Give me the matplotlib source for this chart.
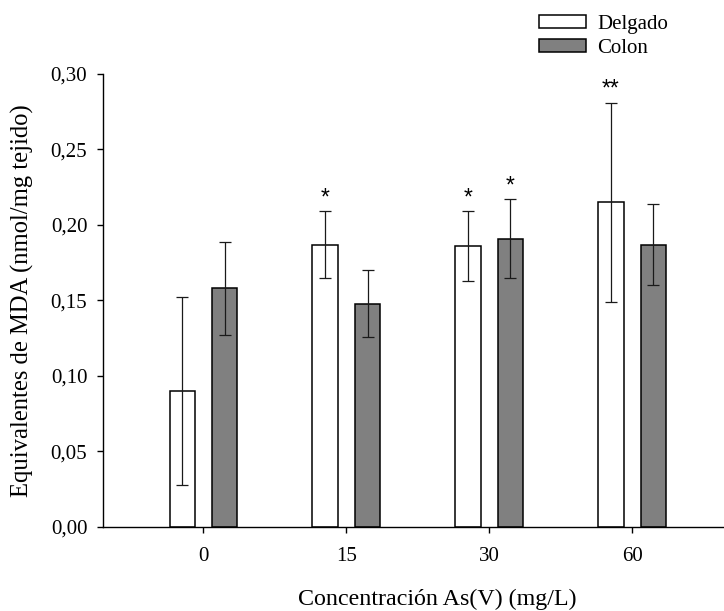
import numpy as np
import matplotlib
matplotlib.use("Agg")
from matplotlib import pyplot as plt

# data
conc = ["0", "15", "30", "60"]
delgado = [0.090, 0.187, 0.186, 0.215]
delgado_err = [0.062, 0.022, 0.023, 0.066]
colon = [0.158, 0.148, 0.191, 0.187]
colon_err = [0.031, 0.022, 0.026, 0.027]
delgado_stars = ["", "*", "*", "**"]
colon_stars = ["", "", "*", ""]
yticks = [0.00, 0.05, 0.10, 0.15, 0.20, 0.25, 0.30]

plt.rcParams['font.family'] = ['Liberation Serif', 'DejaVu Serif']

fig = plt.figure(figsize=(7.24, 6.11), dpi=100)
ax = fig.add_axes([0.1423, 0.1375, 1.0 - 0.1423, 0.8789 - 0.1375])

x = np.arange(len(conc))
w = 0.178
off = 0.148
err_kw = dict(ecolor='#1a1a1a', elinewidth=0.9, capsize=4.3, capthick=0.9, zorder=3)

ax.bar(x - off, delgado, w, yerr=delgado_err, color='white', edgecolor='black',
       linewidth=1.1, label='Delgado', error_kw=err_kw, zorder=2)
ax.bar(x + off, colon, w, yerr=colon_err, color='#808080', edgecolor='black',
       linewidth=1.1, label='Colon', error_kw=err_kw, zorder=2)

# significance marks above the error bars
for i in range(len(conc)):
    if delgado_stars[i]:
        ax.annotate(delgado_stars[i], (x[i] - off, delgado[i] + delgado_err[i]),
                    xytext=(0, 5), textcoords='offset points', ha='center', va='baseline',
                    fontsize=16.5, fontfamily='Liberation Sans')
    if colon_stars[i]:
        ax.annotate(colon_stars[i], (x[i] + off, colon[i] + colon_err[i]),
                    xytext=(0, 5), textcoords='offset points', ha='center', va='baseline',
                    fontsize=16.5, fontfamily='Liberation Sans')

ax.set_xlim(-0.703, 3.643)
ax.set_ylim(0, 0.30)
ax.set_xticks(x)
ax.set_xticklabels(conc)
ax.set_yticks(yticks)
ax.set_yticklabels(["{:.2f}".format(v).replace(".", ",") for v in yticks])

ax.spines['top'].set_visible(False)
ax.spines['right'].set_visible(False)
ax.spines['left'].set_linewidth(1.0)
ax.spines['bottom'].set_linewidth(1.0)
ax.tick_params(axis='x', direction='out', length=4.5, width=1.0, pad=10, labelsize=15)
ax.tick_params(axis='y', direction='out', length=4.3, width=1.0, pad=7, labelsize=15)

ax.set_xlabel("Concentración As(V) (mg/L)", fontsize=17.3)
ax.set_ylabel("Equivalentes de MDA (nmol/mg tejido)", fontsize=17.7)
ax.xaxis.set_label_coords(0.539, -0.136)
ax.yaxis.set_label_coords(-0.111, 0.5)

fig.legend(loc='upper left', bbox_to_anchor=(0.7445, 0.976), frameon=False, fontsize=15,
           handlelength=2.25, handleheight=0.62, handletextpad=0.55, labelspacing=0.25,
           borderpad=0, borderaxespad=0)

fig.savefig("out.png", dpi=100)
